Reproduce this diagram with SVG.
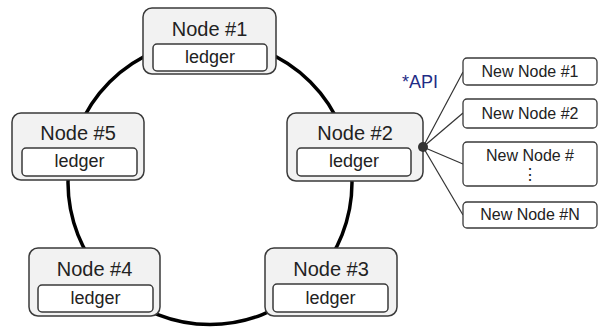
<svg xmlns="http://www.w3.org/2000/svg" width="599" height="327" viewBox="0 0 599 327">
<style>
.outer{fill:#f2f2f2;stroke:#3a3a3a;stroke-width:1.5}
.inner{fill:#ffffff;stroke:#3a3a3a;stroke-width:1.5}
.new{fill:#ffffff;stroke:#3a3a3a;stroke-width:1.3}
.title{font-family:"Liberation Sans",Arial,sans-serif;font-size:20px;fill:#222;text-anchor:middle}
.led{font-family:"Liberation Sans",Arial,sans-serif;font-size:18px;fill:#222;text-anchor:middle}
.nn{font-family:"Liberation Sans",Arial,sans-serif;font-size:16px;fill:#222;text-anchor:middle}
.ring{fill:none;stroke:#000;stroke-width:3.5}
.fan{fill:none;stroke:#333;stroke-width:1.2}
</style>
<rect width="599" height="327" fill="#fff"/>
<g id="connectors">
<circle class="ring" cx="210" cy="182.5" r="142"/>
<line class="fan" x1="423" y1="147" x2="463" y2="72"/>
<line class="fan" x1="423" y1="147" x2="463" y2="113"/>
<line class="fan" x1="423" y1="147" x2="463" y2="164"/>
<line class="fan" x1="423" y1="147" x2="463" y2="215"/>
</g>
<g id="node1">
<rect class="outer" x="143" y="8" width="133" height="66" rx="9"/>
<rect class="inner" x="153" y="44" width="114" height="27" rx="4"/>
<text class="title" x="209.5" y="36">Node #1</text>
<text class="led" x="210" y="63">ledger</text>
</g>
<g id="node2">
<rect class="outer" x="287" y="113" width="136" height="68" rx="9"/>
<rect class="inner" x="297" y="148" width="114" height="28" rx="4"/>
<text class="title" x="355" y="140">Node #2</text>
<text class="led" x="354" y="167">ledger</text>
</g>
<g id="node3">
<rect class="outer" x="265" y="248" width="132" height="68" rx="9"/>
<rect class="inner" x="273" y="284" width="115" height="28" rx="4"/>
<text class="title" x="331" y="276">Node #3</text>
<text class="led" x="330.5" y="304">ledger</text>
</g>
<g id="node4">
<rect class="outer" x="29" y="248" width="131" height="68" rx="9"/>
<rect class="inner" x="38" y="285" width="115" height="27" rx="4"/>
<text class="title" x="94.5" y="276">Node #4</text>
<text class="led" x="95.5" y="304">ledger</text>
</g>
<g id="node5">
<rect class="outer" x="12" y="113" width="132" height="67" rx="9"/>
<rect class="inner" x="22" y="148" width="115" height="28" rx="4"/>
<text class="title" x="78" y="140">Node #5</text>
<text class="led" x="79.5" y="167">ledger</text>
</g>
<g id="api">
<circle cx="423" cy="147" r="5" fill="#333"/>
<text x="402" y="88" font-family="'Liberation Sans',Arial,sans-serif" font-size="18" fill="#1f2d86">*API</text>
</g>
<g id="newnode1">
<rect class="new" x="463" y="58" width="134" height="27" rx="4"/>
<text class="nn" x="530" y="77">New Node #1</text>
</g>
<g id="newnode2">
<rect class="new" x="463" y="99" width="134" height="29" rx="4"/>
<text class="nn" x="530" y="119">New Node #2</text>
</g>
<g id="newnode3">
<rect class="new" x="463" y="142" width="134" height="44" rx="4"/>
<text class="nn" x="530" y="161">New Node #</text>
<text class="nn" x="530" y="180">⋮</text>
</g>
<g id="newnodeN">
<rect class="new" x="463" y="202" width="134" height="26" rx="4"/>
<text class="nn" x="530" y="220">New Node #N</text>
</g>
</svg>
